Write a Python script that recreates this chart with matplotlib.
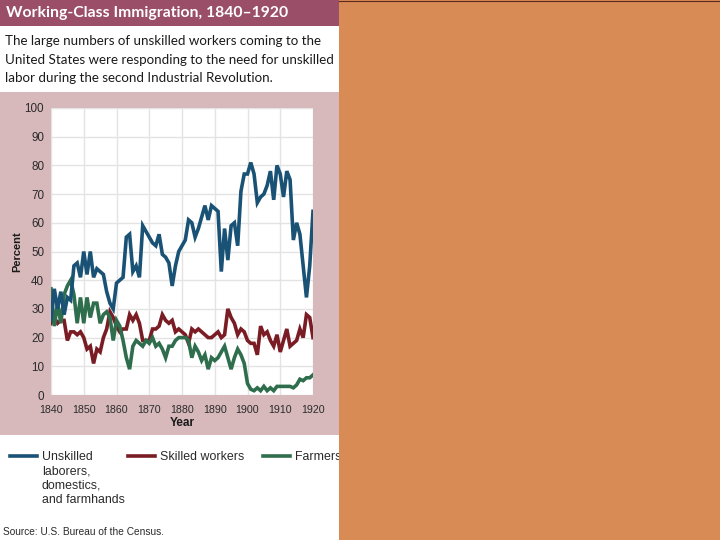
import matplotlib
matplotlib.use("Agg")
import matplotlib.pyplot as plt
from matplotlib.patches import Rectangle
from matplotlib.lines import Line2D

years = list(range(1840, 1921))

unskilled = [26, 37, 30, 36, 28, 34, 33, 45, 46, 41,
             50, 42, 50, 41, 44, 43, 42, 36, 32, 30,
             39, 40, 41, 55, 56, 43, 45, 41, 59, 57,
             55, 53, 52, 56, 49, 48, 46, 38, 45, 50,
             52, 54, 61, 60, 55, 58, 62, 66, 61, 66,
             65, 64, 43, 58, 47, 59, 60, 52, 71, 77,
             77, 81, 77, 67, 69, 70, 73, 78, 68, 80,
             77, 69, 78, 75, 54, 60, 56, 45, 34, 45,
             64]

skilled = [25, 27, 25, 26, 26, 19, 22, 22, 21, 22,
           20, 16, 17, 11, 16, 15, 20, 23, 29, 27,
           24, 22, 23, 23, 28, 26, 28, 25, 19, 19,
           19, 23, 23, 24, 28, 26, 25, 26, 22, 23,
           22, 21, 18, 23, 22, 23, 22, 21, 20, 20,
           21, 22, 20, 21, 30, 27, 25, 21, 23, 22,
           19, 18, 18, 14, 24, 21, 22, 19, 17, 21,
           15, 19, 23, 17, 18, 19, 23, 20, 28, 27,
           20]

farmers = [37, 24, 32, 25, 35, 38, 40, 35, 25, 34,
           25, 34, 27, 32, 32, 25, 28, 29, 27, 19,
           26, 24, 19, 13, 9, 17, 19, 18, 17, 19,
           18, 20, 17, 18, 16, 13, 17, 17, 19, 20,
           20, 20, 19, 13, 17, 15, 12, 14, 9, 13,
           12, 13, 15, 17, 13, 9, 13, 16, 14, 11,
           4, 2, 1.5, 2.5, 1.5, 3, 1.5, 2.5, 1.5, 3,
           3, 3, 3, 3, 2.5, 3.5, 5.5, 5, 6, 6,
           7]

series_labels = ["Unskilled\nlaborers,\ndomestics,\nand farmhands",
                 "Skilled workers", "Farmers"]
x_ticks = list(range(1840, 1921, 10))
y_ticks = list(range(0, 101, 10))

title = "Working-Class Immigration, 1840\u20131920"
subtitle = ["The large numbers of unskilled workers coming to the",
            "United States were responding to the need for unskilled",
            "labor during the second Industrial Revolution."]
source = "Source: U.S. Bureau of the Census."

C_BLUE = "#1a5275"
C_RED = "#7a1c24"
C_GREEN = "#2f6e4d"
C_BAND = "#9a4e68"
C_PANEL = "#d7b9bc"
C_ORANGE = "#d98b56"

W, H = 720, 540
fig = plt.figure(figsize=(7.2, 5.4), dpi=100)
fig.patch.set_facecolor("white")


def fx(x):
    return x / W


def fy(y):
    return 1 - y / H


def rect(x0, y0, x1, y1, color, z=0):
    fig.add_artist(Rectangle((fx(x0), fy(y1)), fx(x1) - fx(x0), fy(y0) - fy(y1),
                             transform=fig.transFigure, facecolor=color,
                             edgecolor="none", zorder=z))


# backgrounds
rect(0, 0, 339, 26, C_BAND)
rect(0, 92, 339, 435, C_PANEL)

fig.text(fx(6), fy(13.5), title, color="white", fontsize=11.3, fontweight="bold",
         family="Lato", va="center", ha="left")
for i, line in enumerate(subtitle):
    fig.text(fx(5), fy(41 + i * 18.6), line, color="#1a1a1a", fontsize=9.6,
             family="Lato", va="center", ha="left")

# chart
ax = fig.add_axes([fx(51), fy(395), fx(313) - fx(51), fy(108) - fy(395)])
ax.set_facecolor("white")
ax.plot(years, skilled, color=C_RED, lw=2.6, zorder=3, solid_joinstyle="miter")
ax.plot(years, farmers, color=C_GREEN, lw=2.6, zorder=3, solid_joinstyle="miter")
ax.plot(years, unskilled, color=C_BLUE, lw=2.6, zorder=4, solid_joinstyle="miter")
ax.set_xlim(1840, 1920)
ax.set_ylim(0, 100)
ax.set_xticks(x_ticks)
ax.set_yticks(y_ticks)
ax.grid(True, color="#e3e3e3", lw=1.0)
ax.set_axisbelow(True)
for s in ax.spines.values():
    s.set_visible(False)
ax.tick_params(axis="y", length=0, labelsize=8.4, labelcolor="#2a2a2a", pad=5)
ax.tick_params(axis="x", length=0, labelsize=7.7, labelcolor="#2a2a2a", pad=7)
for lab in ax.get_xticklabels() + ax.get_yticklabels():
    lab.set_family("Liberation Sans")
ax.set_xlabel("Year", fontsize=8.5, fontweight="bold", family="Liberation Sans",
              color="#1a1a1a", labelpad=2)
ax.set_ylabel("Percent", fontsize=8, fontweight="bold", family="Liberation Sans",
              color="#1a1a1a", labelpad=2)

# legend
leg_items = [(10, C_BLUE, series_labels[0]), (128, C_RED, series_labels[1]),
             (263, C_GREEN, series_labels[2])]
for x0, col, lab in leg_items:
    fig.add_artist(Line2D([fx(x0), fx(x0 + 27)], [fy(456), fy(456)],
                          transform=fig.transFigure, color=col, lw=2.6))
    fig.text(fx(x0 + 32), fy(451), lab, fontsize=8.9, family="Liberation Sans",
             color="#2a2a2a", va="top", ha="left", linespacing=1.27)

fig.text(fx(3), fy(532), source, fontsize=7.3, family="Liberation Sans",
         color="#2a2a2a", va="center", ha="left")

# orange block on the right
rect(339, 0, 720, 540, C_ORANGE, z=10)
fig.add_artist(Line2D([fx(339), fx(720)], [fy(0.5), fy(0.5)],
                      transform=fig.transFigure, color="#5a2a1a", lw=0.8, zorder=11))

fig.savefig("out.png", dpi=100, facecolor="white")
